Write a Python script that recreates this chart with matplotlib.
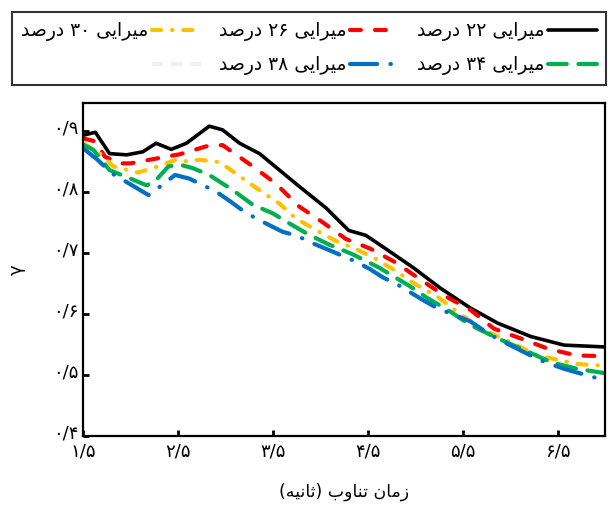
import re
import matplotlib
matplotlib.use('Agg')
import matplotlib.pyplot as plt
from matplotlib.lines import Line2D
from matplotlib.transforms import ScaledTranslation

plt.rcParams['font.family'] = ['DejaVu Sans']

# presentation forms: isolated, final, initial, medial (None = does not join the next letter)
FORMS = {
    'ا': ('\uFE8D', '\uFE8E', None, None),
    'ب': ('\uFE8F', '\uFE90', '\uFE91', '\uFE92'),
    'ت': ('\uFE95', '\uFE96', '\uFE97', '\uFE98'),
    'ث': ('\uFE99', '\uFE9A', '\uFE9B', '\uFE9C'),
    'د': ('\uFEA9', '\uFEAA', None, None),
    'ر': ('\uFEAD', '\uFEAE', None, None),
    'ز': ('\uFEAF', '\uFEB0', None, None),
    'ص': ('\uFEB9', '\uFEBA', '\uFEBB', '\uFEBC'),
    'م': ('\uFEE1', '\uFEE2', '\uFEE3', '\uFEE4'),
    'ن': ('\uFEE5', '\uFEE6', '\uFEE7', '\uFEE8'),
    'ه': ('\uFEE9', '\uFEEA', '\uFEEB', '\uFEEC'),
    'و': ('\uFEED', '\uFEEE', None, None),
    'ی': ('\uFEEF', '\uFEF0', '\uFEF3', '\uFEF4'),
}


def fa(text):
    """shape Persian letters and put them in visual (left to right) order"""
    out = []
    for i, c in enumerate(text):
        if c not in FORMS:
            out.append(c)
            continue
        prev = text[i - 1] if i > 0 else None
        nxt = text[i + 1] if i + 1 < len(text) else None
        join_prev = prev in FORMS and FORMS[prev][2] is not None
        join_next = nxt in FORMS and FORMS[c][2] is not None
        iso, fin, ini, med = FORMS[c]
        if join_prev and join_next:
            out.append(med)
        elif join_prev:
            out.append(fin)
        elif join_next:
            out.append(ini)
        else:
            out.append(iso)
    s = ''.join(out)[::-1]
    s = re.sub('[۰-۹0-9]+', lambda m: m.group(0)[::-1], s)
    return s.translate(str.maketrans('()', ')('))


# ---- data ----
x_22 = [1.50, 1.63, 1.78, 1.96, 2.13, 2.27, 2.43, 2.59, 2.83, 2.97, 3.15, 3.36, 3.57, 3.78,
        4.06, 4.30, 4.48, 4.69, 4.98, 5.26, 5.58, 5.87, 6.22, 6.57, 7.00]
y_22 = [0.893, 0.898, 0.863, 0.861, 0.866, 0.880, 0.870, 0.880, 0.908, 0.902, 0.880, 0.863, 0.836, 0.809,
        0.774, 0.737, 0.729, 0.707, 0.676, 0.643, 0.610, 0.585, 0.563, 0.549, 0.546]

x_26 = [1.50, 1.63, 1.73, 1.89, 2.00, 2.24, 2.52, 2.80, 2.97, 3.29, 3.53, 3.78, 4.02, 4.27,
        4.53, 4.80, 5.05, 5.32, 5.58, 5.83, 6.11, 6.40, 6.70, 7.00]
y_26 = [0.888, 0.883, 0.858, 0.847, 0.847, 0.854, 0.862, 0.875, 0.877, 0.842, 0.814, 0.776, 0.751, 0.723,
        0.707, 0.684, 0.657, 0.629, 0.607, 0.576, 0.560, 0.543, 0.532, 0.531]

x_30 = [1.50, 1.68, 1.82, 2.08, 2.29, 2.48, 2.55, 2.73, 2.94, 3.15, 3.36, 3.57, 3.74, 3.95,
        4.16, 4.37, 4.59, 4.80, 5.01, 5.23, 5.44, 5.69, 6.00, 6.29, 6.71, 7.00]
y_30 = [0.880, 0.863, 0.842, 0.832, 0.842, 0.853, 0.850, 0.853, 0.849, 0.826, 0.803, 0.781, 0.757, 0.738,
        0.720, 0.707, 0.690, 0.670, 0.648, 0.629, 0.604, 0.576, 0.554, 0.532, 0.518, 0.515]

x_34 = [1.50, 1.61, 1.78, 2.00, 2.17, 2.26, 2.40, 2.52, 2.66, 2.83, 3.08, 3.29, 3.50, 3.67, 3.88,
        4.09, 4.34, 4.62, 4.94, 5.12, 5.37, 5.58, 5.87, 6.15, 6.43, 6.71, 7.00]
y_34 = [0.878, 0.869, 0.836, 0.822, 0.811, 0.818, 0.842, 0.845, 0.839, 0.828, 0.803, 0.779, 0.765, 0.749, 0.730,
        0.714, 0.698, 0.676, 0.646, 0.627, 0.604, 0.582, 0.560, 0.541, 0.521, 0.510, 0.503]

x_38 = [1.50, 1.66, 1.80, 1.92, 2.19, 2.33, 2.47, 2.62, 2.90, 3.04, 3.18, 3.32, 3.60, 3.76, 3.92,
        4.09, 4.36, 4.52, 4.66, 4.84, 5.08, 5.24, 5.58, 5.79, 6.00, 6.32, 6.57, 6.89, 7.00]
y_38 = [0.872, 0.852, 0.831, 0.820, 0.795, 0.811, 0.828, 0.822, 0.801, 0.786, 0.770, 0.757, 0.735, 0.728, 0.716,
        0.705, 0.687, 0.674, 0.660, 0.646, 0.623, 0.609, 0.588, 0.566, 0.549, 0.524, 0.510, 0.496, 0.493]

labels = ['میرایی ۲۲ درصد', 'میرایی ۲۶ درصد', 'میرایی ۳۰ درصد', 'میرایی ۳۴ درصد', 'میرایی ۳۸ درصد']
x_ticks = [1.5, 2.5, 3.5, 4.5, 5.5, 6.5]
x_ticklabels = ['۱/۵', '۲/۵', '۳/۵', '۴/۵', '۵/۵', '۶/۵']
y_ticks = [0.4, 0.5, 0.6, 0.7, 0.8, 0.9]
y_ticklabels = ['۰/۴', '۰/۵', '۰/۶', '۰/۷', '۰/۸', '۰/۹']

# ---- styles ----
styles = [
    dict(color='black', linestyle='-', lw=2.6),
    dict(color='#ff0000', linestyle=(0, (2.6, 3.4)), lw=3),
    dict(color='#ffc000', linestyle=(0, (2.2, 2.6, 0.1, 2.6)), lw=3),
    dict(color='#00b050', linestyle=(0, (4.5, 2.8)), lw=3),
    dict(color='#0070c0', linestyle=(0, (6.5, 3.2, 0.1, 3.2)), lw=3),
]

fig = plt.figure(figsize=(6.1, 5.09), dpi=100)
ax = fig.add_axes([83 / 610, 1 - 436 / 509, (605 - 83) / 610, (436 - 103) / 509])

series = [(x_22, y_22), (x_26, y_26), (x_30, y_30), (x_34, y_34), (x_38, y_38)]
handles = []
for (xs, ys), st, lab in zip(series, styles, labels):
    h, = ax.plot(xs, ys, solid_capstyle='round', dash_capstyle='round', label=fa(lab), **st)
    handles.append(h)

ax.set_xlim(1.5, 7.0)
ax.set_ylim(0.4, 0.946)
ax.set_xticks(x_ticks)
ax.set_xticklabels(x_ticklabels)
ax.set_yticks(y_ticks)
ax.set_yticklabels(y_ticklabels)
ax.tick_params(direction='in', length=4, width=2, labelsize=13)
ax.tick_params(axis='x', pad=5)
ax.tick_params(axis='y', pad=3)
# y labels sit a little above their ticks in the original
for t in ax.get_yticklabels():
    t.set_transform(t.get_transform() + ScaledTranslation(0, 3 / 72, fig.dpi_scale_trans))
for sp in ax.spines.values():
    sp.set_linewidth(1.6)

ax.set_xlabel(fa('زمان تناوب (ثانیه)'), fontsize=12.5, labelpad=16)
ax.set_ylabel('γ', fontsize=13, labelpad=20)

# faint empty entry, as in the original legend
ghost = Line2D([], [], color='#f0f0f0', linestyle=(0, (2.6, 2.0)), lw=3)

# column-major order, right-to-left reading
leg_handles = [handles[2], ghost, handles[1], handles[4], handles[0], handles[3]]
leg_labels = [handles[2].get_label(), ' ', handles[1].get_label(), handles[4].get_label(),
              handles[0].get_label(), handles[3].get_label()]
leg = fig.legend(leg_handles, leg_labels, ncol=3, markerfirst=False,
                 loc='upper left', bbox_to_anchor=(12 / 610, 1 - 88 / 509, 594 / 610, 76 / 509),
                 mode='expand', fontsize=13.5, frameon=True, fancybox=False,
                 edgecolor='black', handlelength=2.6, handletextpad=0.2,
                 borderpad=0.5, labelspacing=0.75, borderaxespad=0)
leg.get_frame().set_linewidth(1.5)

fig.savefig('out.png', dpi=100)
